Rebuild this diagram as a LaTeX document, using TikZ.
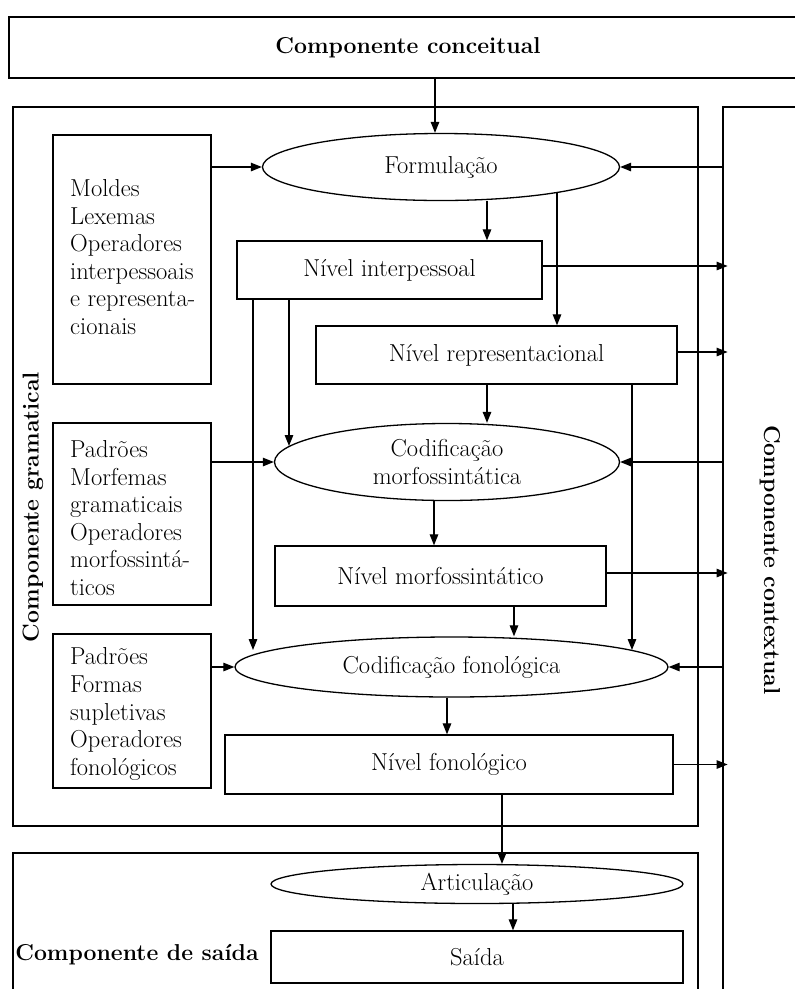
\documentclass[tikz,border=0pt]{standalone}
\usepackage{fontspec}
\usetikzlibrary{arrows.meta,shapes.geometric,calc}
\begin{document}
\begin{tikzpicture}[x=1pt,y=-1pt,
  font=\fontsize{24.5}{27.6}\selectfont,
  big/.style={draw,line width=2.8pt,rectangle,inner sep=0},
  box/.style={draw,line width=1.3pt,rectangle,inner sep=0,align=center},
  ell/.style={draw,line width=1.3pt,ellipse,inner sep=0,align=center},
  lst/.style={draw,line width=1.3pt,rectangle,inner sep=0,minimum width=158pt},
  lsttext/.style={anchor=west,inner sep=0,align=left},
  arr/.style={line width=1.2pt,-{Triangle[length=11pt,width=8.5pt]}},
  lbl/.style={font=\fontsize{23}{26}\selectfont\bfseries,inner sep=0}]
\useasboundingbox (0,0) rectangle (795,989);
\clip (0,0) rectangle (795,989);
% big components
\node[big,minimum width=798pt,minimum height=61pt,lbl,draw,line width=2.8pt] (conc) at (408,47.5) {Componente conceitual};
\node[big,minimum width=685pt,minimum height=719pt] (gram) at (355.5,466.5) {};
\node[big,minimum width=120pt,minimum height=920pt] (ctx) at (783,567) {};
\node[big,minimum width=685pt,minimum height=157pt] (out) at (355.5,931.5) {};
\node[lbl,rotate=90] (gl) at (33,507) {Componente gramatical};
\node[lbl,rotate=-90] (cl) at (770,560) {Componente contextual};
\node[lbl] (sl) at (137,955) {Componente de saída};
% left lists
\node[lst,minimum height=249pt] (b1) at (132,259.5) {};
\node[lst,minimum height=182pt] (b2) at (132,514) {};
\node[lst,minimum height=154pt] (b3) at (132,711) {};
\node[lsttext] (t1) at (70,257) {Moldes\\Lexemas\\Operadores\\interpessoais\\e representa-\\cionais};
\node[lsttext] (t2) at (70,518) {Padrões\\Morfemas\\gramaticais\\Operadores\\morfossintá-\\ticos};
\node[lsttext] (t3) at (70,714) {Padrões\\Formas\\supletivas\\Operadores\\fonológicos};
% ellipses
\node[ell,minimum width=357pt,minimum height=67pt] (form) at (441,167) {Formulação};
\node[ell,minimum width=345pt,minimum height=77pt] (cms) at (447,462) {Codificação\\morfossintática};
\node[ell,minimum width=433pt,minimum height=60pt] (cf) at (451.5,667) {Codificação fonológica};
\node[ell,minimum width=412pt,minimum height=39pt] (art) at (477,884) {Articulação};
% levels
\node[box,minimum width=305pt,minimum height=58pt] (ni) at (389.5,270) {Nível interpessoal};
\node[box,minimum width=361pt,minimum height=58pt] (nr) at (496.5,355) {Nível representacional};
\node[box,minimum width=331pt,minimum height=60pt] (nm) at (440.5,576) {Nível morfossintático};
\node[box,minimum width=448pt,minimum height=59pt] (nf) at (449,764.5) {Nível fonológico};
\node[box,minimum width=412pt,minimum height=52pt] (sai) at (477,957) {Saída};
% guides
\coordinate (g435) at (435,0);
\coordinate (g487) at (487,0);
\coordinate (g557) at (557,0);
\coordinate (g253) at (253,0);
\coordinate (g289) at (289,0);
\coordinate (g632) at (632,0);
\coordinate (g434) at (434,0);
\coordinate (g514) at (514,0);
\coordinate (g447) at (447,0);
\coordinate (g502) at (502,0);
\coordinate (g513) at (513,0);
\coordinate (ctxin) at ([xshift=6pt]ctx.west);
\coordinate (niR) at ([yshift=4pt]ni.east);
\coordinate (nrR) at ([yshift=3pt]nr.east);
\coordinate (nmR) at ([yshift=3pt]nm.east);
% arrows
\draw[arr] (g435 |- conc.south) -- (g435 |- form.north);
\draw[arr] (b1.east |- form.west) -- (form.west);
\draw[arr] (ctx.west |- form.east) -- (form.east);
\draw[arr] (g487 |- form.south) -- (g487 |- ni.north);
\draw[arr] (g557 |- form.-12) -- (g557 |- nr.north);
\draw[arr] (niR) -- (niR -| ctxin);
\draw[arr] (nrR) -- (nrR -| ctxin);
\draw[arr] (g253 |- ni.south) -- ($(g253 |- cf.center)+(0,-17)$);
\draw[arr] (g289 |- ni.south) -- ($(g289 |- cms.center)+(0,-16)$);
\draw[arr] (g487 |- nr.south) -- (g487 |- cms.north);
\draw[arr] (g632 |- nr.south) -- ($(g632 |- cf.center)+(0,-17)$);
\draw[arr] (b2.east |- cms.west) -- (cms.west);
\draw[arr] (ctx.west |- cms.east) -- (cms.east);
\draw[arr] (g434 |- cms.south) -- (g434 |- nm.north);
\draw[arr] (nmR) -- (nmR -| ctxin);
\draw[arr] (g514 |- nm.south) -- (g514 |- cf.north);
\draw[arr] (b3.east |- cf.west) -- (cf.west);
\draw[arr] (ctx.west |- cf.east) -- (cf.east);
\draw[arr] (g447 |- cf.south) -- (g447 |- nf.north);
\draw[arr] (nf.east) -- (nf.east -| ctxin);
\draw[arr] (g502 |- nf.south) -- (g502 |- art.north);
\draw[arr] (g513 |- art.south) -- (g513 |- sai.north);
\end{tikzpicture}
\end{document}
